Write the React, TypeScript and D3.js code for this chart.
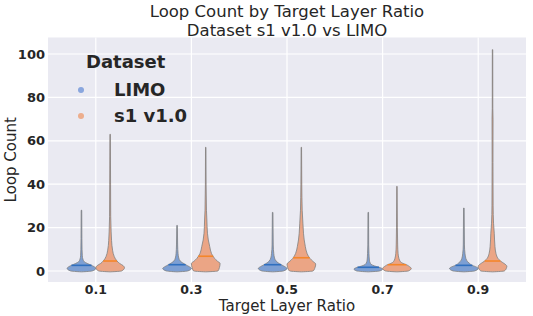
import * as d3 from "d3";
import { useEffect, useRef } from "react";

const ratios = ["0.1", "0.3", "0.5", "0.7", "0.9"];
const datasets = ["LIMO", "s1 v1.0"];
const yTicks = [0, 20, 40, 60, 80, 100];

// violin outlines: [loop count, relative half width]
const limoShapes: [number, number][][] = [
  [[-0.4, 0], [0, 0.75], [1.2, 1.0], [2, 0.88], [2.7, 0.67], [3.5, 0.4], [4.3, 0.19], [5.5, 0.1], [7, 0.06], [10, 0.04], [15, 0.03], [28, 0.02]],
  [[-0.4, 0], [0, 0.75], [1.2, 1.0], [2, 0.85], [2.9, 0.6], [3.8, 0.38], [4.6, 0.22], [6, 0.12], [8, 0.07], [12, 0.04], [21, 0.02]],
  [[-0.4, 0], [0, 0.75], [1.2, 1.0], [2, 0.85], [2.9, 0.6], [3.8, 0.38], [4.6, 0.24], [6, 0.13], [8, 0.08], [12, 0.04], [27, 0.02]],
  [[-0.4, 0], [0, 0.8], [0.9, 1.0], [1.5, 0.85], [2, 0.6], [2.7, 0.3], [3.5, 0.15], [5, 0.08], [8, 0.05], [12, 0.03], [27, 0.02]],
  [[-0.4, 0], [0, 0.75], [1.2, 1.0], [2, 0.82], [2.7, 0.55], [3.6, 0.38], [4.3, 0.26], [5.8, 0.14], [8, 0.08], [12, 0.04], [29, 0.02]],
];
const s1Shapes: [number, number][][] = [
  [[-0.4, 0], [0, 0.8], [1.5, 1.0], [2.5, 0.9], [3.5, 0.66], [4.6, 0.48], [6.6, 0.29], [9.6, 0.17], [14, 0.1], [18, 0.07], [25, 0.04], [40, 0.03], [63, 0.015]],
  [[-0.4, 0], [0, 0.85], [1.5, 0.95], [3.5, 1.0], [4.5, 0.82], [5.8, 0.62], [8.1, 0.4], [11.2, 0.28], [14.3, 0.18], [17.4, 0.12], [23.5, 0.08], [28, 0.05], [40, 0.025], [57, 0.015]],
  [[-0.4, 0], [0, 0.82], [1.5, 0.95], [3.2, 1.0], [4.5, 0.8], [5.8, 0.6], [8.1, 0.4], [11.2, 0.28], [14.3, 0.2], [17.4, 0.15], [22, 0.11], [28, 0.06], [40, 0.03], [57, 0.015]],
  [[-0.4, 0], [0, 0.8], [1.2, 1.0], [2, 0.88], [2.7, 0.72], [3.5, 0.42], [4.3, 0.24], [5.8, 0.14], [8.1, 0.08], [12, 0.05], [20, 0.03], [39, 0.015]],
  [[-0.4, 0], [0, 0.82], [1.5, 0.98], [2.2, 1.0], [3.5, 0.8], [4.6, 0.55], [5.8, 0.38], [8.1, 0.24], [11.2, 0.17], [14.3, 0.14], [17.4, 0.12], [22, 0.07], [30, 0.04], [50, 0.03], [70, 0.035], [75, 0.02], [102, 0.015]],
];
const limoMedians = [2.6, 2.9, 2.9, 1.7, 2.6];
const s1Medians = [4.6, 6.8, 6.1, 2.9, 4.6];

const fills = ["#7d9fd3", "#eba585"];
const medianColors = ["#2f6fbf", "#f5862a"];
const legendColors = ["#4878d0", "#ee854a"];

const App = () => {
  const svgRef = useRef(null);

  useEffect(() => {
    const w = 533;
    const h = 316;
    const left = 48, right = 526, top = 37.5, bottom = 282;
    const font = "DejaVu Sans, sans-serif";

    const svg = d3.select(svgRef.current).attr("width", w).attr("height", h);
    svg.selectAll("*").remove();

    const xScale = d3.scaleBand().domain(ratios).range([left, right]);
    const step = xScale.step();
    const hue = d3.scaleBand().domain(datasets).range([-0.3 * step, 0.3 * step]);
    const yScale = d3.scaleLinear().domain([-5.07, 107.6]).range([bottom, top]);
    const halfW = d3.scaleLinear().domain([0, 1]).range([0, hue.bandwidth() / 2]);

    // background + grid
    svg.append("rect")
      .attr("x", left).attr("y", top)
      .attr("width", right - left).attr("height", bottom - top)
      .attr("fill", "#eaeaf2");

    svg.selectAll(".hgrid").data(yTicks).enter().append("line")
      .attr("x1", left).attr("x2", right)
      .attr("y1", (d) => yScale(d)).attr("y2", (d) => yScale(d))
      .attr("stroke", "#ffffff").attr("stroke-width", 1.2);

    svg.selectAll(".vgrid").data(ratios).enter().append("line")
      .attr("x1", (d) => xScale(d)! + step / 2).attr("x2", (d) => xScale(d)! + step / 2)
      .attr("y1", top).attr("y2", bottom)
      .attr("stroke", "#ffffff").attr("stroke-width", 1.2);

    // violins
    const groups = [limoShapes, s1Shapes];
    const medians = [limoMedians, s1Medians];
    ratios.forEach((r, i) => {
      datasets.forEach((ds, j) => {
        const cx = xScale(r)! + step / 2 + hue(ds)! + hue.bandwidth() / 2;
        const shape = groups[j][i].slice().reverse();
        const area = d3.area<[number, number]>()
          .y((d) => yScale(d[0]))
          .x0((d) => cx - halfW(d[1]))
          .x1((d) => cx + halfW(d[1]))
          .curve(d3.curveMonotoneY);
        svg.append("path")
          .attr("d", area(shape))
          .attr("fill", fills[j])
          .attr("stroke", "#7f7f7f")
          .attr("stroke-width", 0.8);

        const widthAt = d3.scaleLinear()
          .domain(groups[j][i].map((d) => d[0]))
          .range(groups[j][i].map((d) => d[1]));
        const m = medians[j][i];
        const mw = halfW(widthAt(m));
        svg.append("line")
          .attr("x1", cx - mw).attr("x2", cx + mw)
          .attr("y1", yScale(m)).attr("y2", yScale(m))
          .attr("stroke", medianColors[j]).attr("stroke-width", 1.6);
      });
    });

    // tick labels
    svg.selectAll(".ytick").data(yTicks).enter().append("text")
      .attr("x", 45).attr("y", (d) => yScale(d)).attr("dy", "0.36em")
      .attr("text-anchor", "end")
      .attr("font-family", font).attr("font-size", 13).attr("font-weight", "bold")
      .attr("fill", "#262626")
      .text((d) => d);

    svg.selectAll(".xtick").data(ratios).enter().append("text")
      .attr("x", (d) => xScale(d)! + step / 2).attr("y", 293.5)
      .attr("text-anchor", "middle")
      .attr("font-family", font).attr("font-size", 12.5).attr("font-weight", "bold")
      .attr("fill", "#262626")
      .text((d) => d);

    // axis labels + title
    const midX = (left + right) / 2;
    svg.append("text")
      .attr("x", midX).attr("y", 311)
      .attr("text-anchor", "middle")
      .attr("font-family", font).attr("font-size", 15).attr("fill", "#262626")
      .text("Target Layer Ratio");

    svg.append("text")
      .attr("transform", `translate(16,${(top + bottom) / 2}) rotate(-90)`)
      .attr("text-anchor", "middle")
      .attr("font-family", font).attr("font-size", 15).attr("fill", "#262626")
      .text("Loop Count");

    ["Loop Count by Target Layer Ratio", "Dataset s1 v1.0 vs LIMO"].forEach((t, k) => {
      svg.append("text")
        .attr("x", midX).attr("y", 17 + k * 18.5)
        .attr("text-anchor", "middle")
        .attr("font-family", font).attr("font-size", 16.5).attr("fill", "#262626")
        .text(t);
    });

    // legend
    svg.append("text")
      .attr("x", 86).attr("y", 68)
      .attr("font-family", font).attr("font-size", 18).attr("font-weight", "bold")
      .attr("fill", "#262626")
      .text("Dataset");
    datasets.forEach((ds, j) => {
      const ly = 90 + j * 26;
      svg.append("circle")
        .attr("cx", 81).attr("cy", ly).attr("r", 3)
        .attr("fill", legendColors[j]).attr("fill-opacity", 0.6);
      svg.append("text")
        .attr("x", 114).attr("y", ly).attr("dy", "0.36em")
        .attr("font-family", font).attr("font-size", 18).attr("font-weight", "bold")
        .attr("fill", "#262626")
        .text(ds);
    });
  }, []);

  return (
    <div style={{ position: "absolute", left: 0, top: 0 }}>
      <svg ref={svgRef}></svg>
    </div>
  );
};

export default App;
